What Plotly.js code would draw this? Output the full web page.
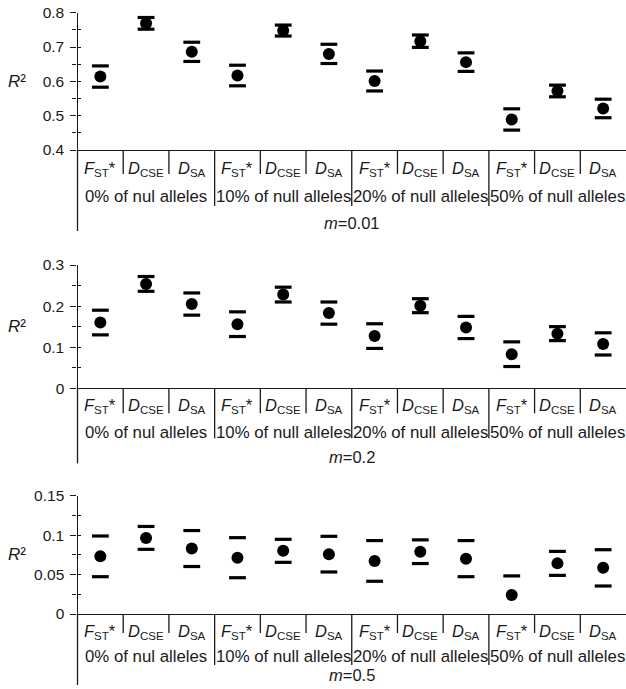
<!DOCTYPE html>
<html><head><meta charset="utf-8">
<script src="https://cdn.plot.ly/plotly-3.0.1.min.js"></script>
<style>html,body{margin:0;padding:0;background:#fff;}</style>
</head><body><div id="chart" style="width:626px;height:689px;"></div>
<script>
// ---- data ----
const categoryLabels = [
  '<i>F</i><sub>ST</sub>*', '<i>D</i><sub>CSE</sub>', '<i>D</i><sub>SA</sub>',
  '<i>F</i><sub>ST</sub>*', '<i>D</i><sub>CSE</sub>', '<i>D</i><sub>SA</sub>',
  '<i>F</i><sub>ST</sub>*', '<i>D</i><sub>CSE</sub>', '<i>D</i><sub>SA</sub>',
  '<i>F</i><sub>ST</sub>*', '<i>D</i><sub>CSE</sub>', '<i>D</i><sub>SA</sub>'
];
const groupLabels = ['0% of nul alleles', '10% of null alleles', '20% of null alleles', '50% of null alleles'];
const panelTitles = ['<i>m</i>=0.01', '<i>m</i>=0.2', '<i>m</i>=0.5'];
const yTitle = '<i>R</i>²';

const m001Values = [0.614, 0.769, 0.686, 0.617, 0.748, 0.680, 0.601, 0.717, 0.656, 0.489, 0.572, 0.521];
const m001Errors = [0.031, 0.017, 0.028, 0.030, 0.016, 0.028, 0.029, 0.018, 0.027, 0.031, 0.017, 0.027];
const m02Values  = [0.160, 0.254, 0.205, 0.156, 0.228, 0.183, 0.127, 0.201, 0.148, 0.083, 0.133, 0.108];
const m02Errors  = [0.030, 0.018, 0.027, 0.030, 0.018, 0.027, 0.030, 0.017, 0.027, 0.030, 0.017, 0.027];
const m05Values  = [0.0731, 0.0965, 0.0830, 0.0714, 0.0801, 0.0759, 0.0673, 0.0790, 0.0702, 0.0240, 0.0642, 0.0585];
const m05Errors  = [0.0258, 0.0145, 0.0228, 0.0254, 0.0146, 0.0226, 0.0258, 0.0150, 0.0229, 0.0243, 0.0152, 0.0230];

// ---- layout geometry ----
const W = 626, H = 689;
const xLeft = 77.5;
const FONT = 'Liberation Sans, Arial, sans-serif';
const INK = '#1a1a1a';
const panels = [
  {vals: m001Values, errs: m001Errors, range: [0.4, 0.8], dtick: 0.1, minor: 0.05, top: 12.7, bot: 150,
   cat: 19, grp: 47, ttl: 73, shortSep: 24, longSep: 56, ext: 81},
  {vals: m02Values, errs: m02Errors, range: [0, 0.3], dtick: 0.1, minor: 0.05, top: 265, bot: 388.3,
   cat: 18, grp: 44, ttl: 69, shortSep: 25, longSep: 50, ext: 75},
  {vals: m05Values, errs: m05Errors, range: [0, 0.15], dtick: 0.05, minor: 0.025, top: 495.7, bot: 614,
   cat: 17.5, grp: 42, ttl: 61, shortSep: 19, longSep: 51, ext: 71}
];

const idx = categoryLabels.map((_, i) => i);
const traces = [];
const layout = {
  width: W, height: H, margin: {l: 0, r: 0, t: 0, b: 0},
  paper_bgcolor: '#fff', plot_bgcolor: 'rgba(0,0,0,0)',
  showlegend: false, font: {family: FONT, color: INK},
  annotations: [], shapes: []
};

panels.forEach((p, k) => {
  const n = k + 1;
  const xa = n === 1 ? 'x' : 'x' + n;
  const ya = n === 1 ? 'y' : 'y' + n;
  const yo = 'y' + (n + 3);
  const xKey = n === 1 ? 'xaxis' : 'xaxis' + n;
  const yKey = n === 1 ? 'yaxis' : 'yaxis' + n;
  const yoKey = 'yaxis' + (n + 3);
  const plotH = p.bot - p.top;
  const dom = [1 - p.bot / H, 1 - p.top / H];

  layout[xKey] = {domain: [xLeft / W, 1], anchor: ya, range: [-0.5, 11.5], showticklabels: false,
    ticks: '', showline: true, linecolor: INK, linewidth: 1.3, showgrid: false, zeroline: false, fixedrange: true};
  layout[yKey] = {domain: dom, anchor: xa, range: p.range, tickmode: 'linear', tick0: p.range[0], dtick: p.dtick,
    ticks: 'outside', ticklen: 6, tickwidth: 1.3, tickcolor: INK,
    minor: {dtick: p.minor, tick0: p.range[0], ticks: 'outside', ticklen: 4, tickwidth: 1.3, tickcolor: INK},
    showline: true, linecolor: INK, linewidth: 1.3, showgrid: false, zeroline: false,
    tickfont: {family: FONT, size: 15.5, color: INK}, ticklabelstandoff: 3, fixedrange: true};
  layout[yoKey] = {overlaying: ya, anchor: xa, side: 'left', range: p.range, tickmode: 'linear', tick0: p.range[0],
    dtick: p.minor, ticks: 'inside', ticklen: 3, tickwidth: 1.3, tickcolor: INK, showticklabels: false,
    showline: false, showgrid: false, zeroline: false, fixedrange: true};

  traces.push({x: [], y: [], xaxis: xa, yaxis: yo, type: 'scatter', mode: 'markers', hoverinfo: 'skip'});
  // caps (error bar ends)
  traces.push({x: idx.concat(idx), y: p.vals.map((v, i) => v + p.errs[i]).concat(p.vals.map((v, i) => v - p.errs[i])),
    xaxis: xa, yaxis: ya, type: 'scatter', mode: 'markers', cliponaxis: false,
    marker: {symbol: 'line-ew', size: 12, color: '#000', line: {width: 3.2, color: '#000'}}});
  // points
  traces.push({x: idx, y: p.vals, xaxis: xa, yaxis: ya, type: 'scatter', mode: 'markers', cliponaxis: false,
    marker: {symbol: 'circle', size: 12, color: '#000'}});

  const xd = xa + ' domain', yd = ya + ' domain';
  // separators
  for (let s = 1; s < 12; s++) {
    const len = (s % 3 === 0) ? p.longSep : p.shortSep;
    layout.shapes.push({type: 'line', xref: xd, yref: yd, x0: s / 12, x1: s / 12, y0: 0, y1: -len / plotH,
      line: {color: INK, width: 1.3}});
  }
  // y axis extension
  layout.shapes.push({type: 'line', xref: xd, yref: yd, x0: 0, x1: 0, y0: 0, y1: -p.ext / plotH,
    line: {color: INK, width: 1.3}});

  categoryLabels.forEach((t, i) => {
    layout.annotations.push({text: t, x: i, xref: xa, y: 0, yref: yd, yshift: -p.cat, yanchor: 'middle',
      xanchor: 'center', showarrow: false, font: {family: FONT, size: 16.5, color: INK}});
  });
  groupLabels.forEach((t, g) => {
    layout.annotations.push({text: t, x: g * 3 + 1, xref: xa, y: 0, yref: yd, yshift: -p.grp, yanchor: 'middle',
      xanchor: 'center', showarrow: false, font: {family: FONT, size: 16.8, color: INK}});
  });
  layout.annotations.push({text: panelTitles[k], x: 0.5, xref: xd, y: 0, yref: yd, yshift: -p.ttl, yanchor: 'middle',
    xanchor: 'center', showarrow: false, font: {family: FONT, size: 16.5, color: INK}});
  layout.annotations.push({text: yTitle, x: 6 / W, xref: 'paper', y: 0.5, yref: yd, yanchor: 'middle',
    xanchor: 'left', showarrow: false, font: {family: FONT, size: 17, color: INK}});
});

Plotly.newPlot('chart', traces, layout, {displayModeBar: false});
</script>
</body></html>
